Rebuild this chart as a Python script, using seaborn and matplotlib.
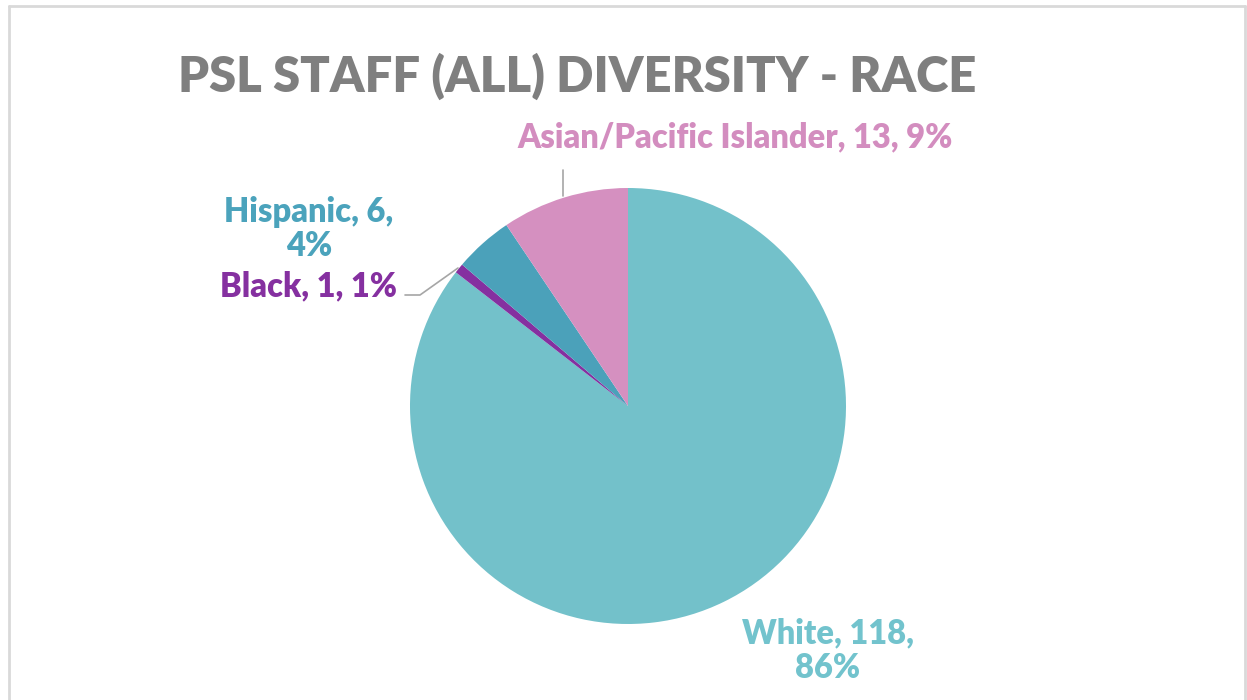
import matplotlib.pyplot as plt
import seaborn as sns
from matplotlib.lines import Line2D

# Data
races = ['White', 'Black', 'Hispanic', 'Asian/Pacific Islander']
counts = [118, 1, 6, 13]
percents = [86, 1, 4, 9]
slice_colors = ['#73C1CA', '#8530A0', '#4BA1BA', '#D590C0']
text_colors = ['#72C3CD', '#8530A0', '#4BA3BC', '#D38DBF']

sns.set_theme(style="white")
plt.rcParams['font.family'] = ['Lato', 'DejaVu Sans']

W, H = 1247, 700
fig = plt.figure(figsize=(W / 100, H / 100), dpi=100)
ax = fig.add_axes([0, 0, 1, 1])

# pie, clockwise from 12 o'clock
ax.pie(counts, colors=slice_colors, startangle=90, counterclock=False,
       center=(628, H - 406), radius=218, frame=True,
       wedgeprops=dict(linewidth=0))
ax.set_xlim(0, W)
ax.set_ylim(0, H)
ax.set_aspect('equal')
ax.axis('off')

# title
ax.text(178, H - 92, 'PSL STAFF (ALL) DIVERSITY - RACE', fontsize=35.2,
        fontweight='heavy', color='#7F7F7F', ha='left', va='baseline')

# data labels
lbl = [f'{r}, {c}, {p}%' for r, c, p in zip(races, counts, percents)]
label_kw = dict(fontsize=23.5, fontweight='heavy', ha='center', va='center',
                linespacing=1.1)
ax.text(828, H - 651, f'{races[0]}, {counts[0]},\n{percents[0]}%',
        color=text_colors[0], **label_kw)
ax.text(309, H - 286, lbl[1], color=text_colors[1], **label_kw)
ax.text(309, H - 229, f'{races[2]}, {counts[2]},\n{percents[2]}%',
        color=text_colors[2], **label_kw)
ax.text(735, H - 137, lbl[3], color=text_colors[3], **label_kw)

# leader lines
ax.plot([405, 420, 458], [H - 295, H - 295, H - 268], color='#A6A6A6', lw=1.2)
ax.plot([563, 563], [H - 170, H - 196], color='#A6A6A6', lw=1.2)

# chart border
for xs, ys in [((9, 1245), (6, 6)), ((9, 9), (6, 700)), ((1245, 1245), (6, 700))]:
    fig.add_artist(Line2D([x / W for x in xs], [1 - y / H for y in ys],
                          color='#D9D9D9', lw=2))

fig.savefig('out.png', dpi=100)
